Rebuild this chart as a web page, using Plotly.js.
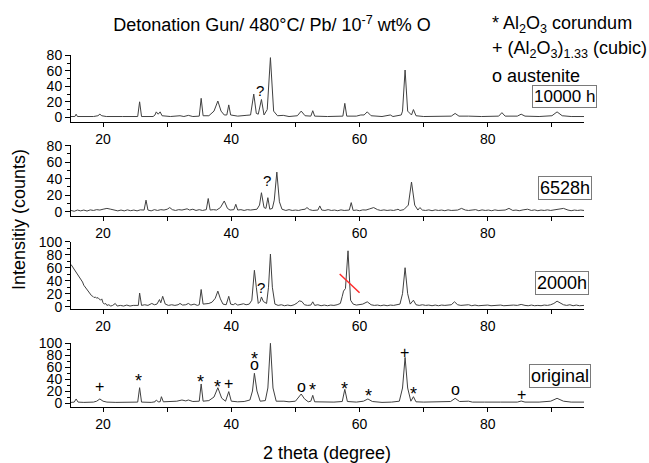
<!DOCTYPE html>
<html>
<head>
<meta charset="utf-8">
<script src="https://cdn.plot.ly/plotly-3.0.1.min.js"></script>
<style>html,body{margin:0;padding:0;background:#fff;}#chart{width:649px;height:463px;}</style>
</head>
<body>
<div id="chart"></div>
<script>
// ---------- DATA (2 theta in degrees, intensity in counts) ----------
const spec10000 = [[15,1],[15.6,1],[15.8,4],[16.0,1],[18.5,1],[19.2,2],[19.5,4],[19.8,2],[20.5,1],[22.0,1.5],[23.0,1],
 [25.4,1],[25.7,20],[26.0,1],[27.8,1],[28.1,3],[28.3,7],[28.6,4],[28.9,7],[29.2,2],[30.5,1],[32.0,2],[32.6,1],[33.3,2.5],[34.0,1],
 [35.0,1.5],[35.3,24.5],[35.6,2],[36.5,2],[37.3,8],[37.9,21],[38.4,8],[38.9,3],[39.3,3],[39.6,16],[39.9,3],[41.0,1.5],[42.3,2.5],
 [43.0,3],[43.5,30],[43.9,5],[44.2,4],[44.7,23],[45.1,3],[45.6,10],[46.1,77],[46.6,8],[47.2,2],[48.1,2.5],[49.0,1],[50.3,2],
 [50.9,8],[51.5,2],[52.4,1.5],[52.7,8.5],[53.0,1.5],[55.0,1],[57.4,1.5],[57.7,18],[58.0,1.5],[59.5,1.5],[60.2,3],[60.7,3],
 [61.2,7],[61.8,2],[63.5,1],[64.8,3],[65.2,1],[66.5,3],[66.7,8],[67.1,61],[67.5,8],[68.1,3],[68.4,10],[68.8,2],[70.0,1],[72.0,1],
 [74.3,1.5],[74.9,5],[75.5,1.5],[77.0,1.5],[79.0,1],[81.7,1.5],[82.2,6],[82.7,1.5],[84.6,1.5],[85.2,4],[85.8,1.5],[88.0,1],
 [90.0,2],[90.8,7],[91.6,2],[93.0,1],[95.0,1]];

const spec6528 = [[15,1.5],[15.5,0.5],[16,2],[16.5,1],[17,2],[17.5,0.8],[18,2.2],[18.5,1.5],[19,2.5],[19.5,2],[20,3],[20.6,4],
 [21.2,3],[21.8,2],[22.3,1],[22.8,2],[23.3,1],[23.8,2.2],[24.3,1.2],[24.8,2],[25.3,1],[25.8,2.2],[26.4,2],[26.7,14],[27.0,2],
 [27.5,1],[28.0,2.5],[28.5,1.5],[29.0,2.5],[29.5,2],[30.0,3],[30.4,5],[30.8,2.5],[31.3,1.5],[31.8,2.5],[32.3,2],[32.8,3],
 [33.1,3.5],[33.5,2],[34.0,3],[34.5,1.5],[35.0,2.5],[35.5,1.5],[36.1,2.5],[36.4,16],[36.7,2],[37.2,2.5],[37.7,2],[38.3,5],
 [38.9,13],[39.4,4],[39.8,2],[40.4,2.5],[40.7,9],[41.0,2],[41.5,2.5],[42.0,1.5],[42.5,2.5],[43.0,2],[43.5,2.5],[44.0,3],
 [44.4,8],[44.7,23],[45.1,5],[45.4,4],[45.7,17],[46.0,3],[46.4,4],[46.7,14],[47.1,48],[47.5,12],[47.9,3],[48.5,1.5],[49.0,2.5],
 [49.5,1.5],[50.0,2],[50.5,1.5],[51.0,2.5],[51.5,3],[51.8,5],[52.2,2.5],[52.7,1.5],[53.2,2],[53.5,2],[53.8,7],[54.1,2],
 [54.6,1.5],[55.1,2.5],[55.6,1.5],[56.1,2],[56.6,1.2],[57.1,2.2],[57.6,1.5],[58.1,2],[58.4,2],[58.7,11],[59.0,1.5],[59.5,2],
 [60.0,1.2],[60.5,2.2],[61.0,2],[61.6,3.5],[62.2,5],[62.8,2.5],[63.3,1.5],[63.8,2.2],[64.3,1.5],[64.8,2],[65.3,1.5],[65.8,2.5],
 [66.0,3],[66.3,1.5],[66.9,2.5],[67.6,8],[68.1,36],[68.6,8],[69.1,2],[69.4,5],[69.8,2],[70.3,1.5],[70.8,2.2],[71.3,1.2],
 [71.8,2.2],[72.3,1.5],[72.8,2],[73.3,1.2],[73.8,2.2],[74.3,1.5],[74.8,2.2],[75.3,2],[75.9,4],[76.5,2],[77.0,1.5],[77.5,2.2],
 [78.1,2.5],[78.6,1.2],[79.1,2.2],[79.6,1.5],[80.1,2],[80.6,1.2],[81.1,2.2],[81.6,1.5],[82.1,2],[82.7,2],[83.3,4],[83.9,1.5],
 [84.4,2],[84.9,1.2],[85.5,2.2],[86.2,3],[86.8,1.5],[87.3,2.2],[87.8,1.2],[88.3,2],[88.8,1.5],[89.3,2.2],[89.8,1.5],[90.4,2],
 [91.1,3],[91.8,4],[92.5,2],[93.0,1.2],[93.5,2],[94.0,1.5],[94.5,2],[95.0,1.5]];

const spec2000 = [[15.0,65],[15.2,62],[15.4,60],[15.6,57],[15.8,55],[16.0,50],[16.2,47],[16.4,44],[16.6,41],[16.8,38],[17.0,33],
 [17.2,30],[17.4,28],[17.6,26],[17.8,22],[18.0,20],[18.2,17],[18.4,16],[18.6,14],[18.8,15],[19.0,13],[19.2,14],[19.4,12],
 [19.6,10],[19.8,12],[20.0,6],[20.2,4],[20.4,5],[20.6,2],[20.9,3],[21.2,1],[21.5,2],[21.9,5],[22.2,1],[22.7,2],[23.2,1],
 [23.7,2.5],[24.2,1],[24.7,2],[25.2,1.5],[25.5,2],[25.7,21],[26.0,2],[26.5,3],[27.0,2],[27.6,5],[28.0,3],[28.4,4],[28.8,11],
 [29.0,6],[29.3,16],[29.7,4],[30.2,2],[30.7,3],[31.2,2],[31.7,3],[32.0,5],[32.4,2.5],[32.9,3],[33.3,5],[33.7,2.5],[34.2,4],
 [34.7,2],[35.0,3],[35.3,26.5],[35.6,4],[36.0,4],[36.5,5],[37.0,7],[37.5,13],[37.9,24],[38.3,12],[38.7,4],[39.2,3],[39.6,16],
 [39.9,4],[40.3,3],[40.6,5],[41.0,2.5],[41.5,4],[41.9,4.5],[42.3,3],[42.8,4],[43.2,10],[43.6,56],[43.9,30],[44.2,5],[44.5,8],
 [44.7,15],[45.0,8],[45.5,5],[45.8,30],[46.1,81],[46.4,30],[46.8,4],[47.3,2],[47.8,3],[48.3,1.5],[48.8,2.5],[49.3,1.5],[49.8,3],
 [50.3,6],[50.6,9],[51.0,8],[51.4,3],[51.9,2],[52.4,2.5],[52.7,7.5],[53.0,2],[53.5,3],[54.0,1.5],[54.5,2.5],[55.0,1.5],[55.5,2.5],
 [56.0,2],[56.5,3],[57.0,5],[57.3,16],[57.5,24],[57.8,28],[58.2,86],[58.6,10],[59.0,4],[59.5,2.5],[60.0,3],[60.5,4],[61.2,7.5],
 [61.8,3],[62.3,2],[62.8,2.5],[63.3,1.5],[63.8,2.5],[64.3,1.5],[64.8,2.5],[65.3,2],[65.8,2.5],[66.3,4],[66.7,20],[67.1,60],
 [67.5,20],[67.9,4],[68.4,10],[68.8,3],[69.3,2],[69.8,3],[70.3,2],[70.8,2.5],[71.3,1.5],[71.8,2.5],[72.3,1.5],[72.8,2.5],[73.3,2],
 [73.8,2.5],[74.3,3],[74.8,7.5],[75.3,3],[75.8,2],[76.3,2.5],[77.0,3],[77.5,1.5],[78.0,2.5],[78.5,1.5],[79.0,2],[79.5,1.5],
 [80.0,2.5],[80.5,1.5],[81.0,2],[81.5,1.5],[82.0,2.5],[82.5,1.5],[83.0,2],[83.5,1.5],[84.0,2.5],[84.6,2],[85.2,3.5],[85.8,2],
 [86.3,1.5],[86.8,2.5],[87.3,1.5],[87.8,2],[88.3,1.5],[88.8,2.5],[89.3,2],[89.8,3],[90.3,5],[90.8,8.5],[91.3,6],[91.8,3],[92.3,2],
 [92.8,3],[93.3,1.5],[93.8,2.5],[94.3,1.5],[95.0,2]];

const specOriginal = [[15,1],[15.5,1.5],[15.8,6.7],[16.1,1.5],[17.0,1],[18.5,1.5],[19.0,3],[19.5,6.7],[20.0,3],[20.6,1.5],[22.0,1],
 [24.0,1],[25.4,1.5],[25.7,25.5],[26.0,1.5],[27.5,1],[28.1,2],[28.3,5],[28.6,2],[28.9,2],[29.1,10.5],[29.4,2],[30.5,2],[31.5,3],
 [32.3,5],[32.9,3.5],[33.3,5],[34.0,2.5],[35.0,3],[35.3,31.7],[35.6,3],[36.5,4],[37.3,10],[37.9,25.5],[38.5,8],[39.1,3],[39.6,19],
 [40.0,3],[41.0,2],[42.0,2.5],[42.9,5],[43.3,20],[43.6,49.5],[44.0,20],[44.5,3],[45.3,4],[45.7,25],[46.1,99.5],[46.5,25],[47.0,3],
 [48.2,3],[49.0,2],[50.0,3],[50.5,9],[50.9,15],[51.4,7],[52.0,2],[52.4,3],[52.7,12.8],[53.0,2],[54.5,1.5],[56.0,1.5],[57.3,2.5],
 [57.7,22.8],[58.1,2.5],[59.5,1.5],[60.6,3],[61.3,6.7],[62.0,2.5],[63.5,1],[65.0,1.5],[66.2,3],[66.7,25],[67.1,76],[67.5,25],
 [68.0,3],[68.4,10.5],[68.8,2],[70.0,1.5],[72.0,1.5],[74.2,2.5],[74.9,7.8],[75.6,2.5],[77.0,3],[77.6,1.5],[79.5,1.5],[80.7,2],
 [82.0,1.5],[84.6,1.5],[85.2,3.3],[85.8,1.5],[88.0,1.5],[89.8,3],[90.8,7.8],[91.8,3],[93.0,1.5],[95.0,1.5]];

// phase markers on the "original" pattern
const markTheta = [19.4, 25.6, 35.2, 37.8, 39.5, 43.6, 43.6, 46.1, 50.9, 52.7, 57.7, 61.4, 67.0, 68.4, 75.0, 85.3];
const markSym   = ['+','*','*','*','+','*','o','+','o','*','*','*','+','*','o','+'];
const markInt   = [26.7, 45, 43, 35, 32, 82, 65, 113, 28, 30, 32, 20, 85, 23, 23, 15];

// "?" marks: [panel index, 2theta, intensity]
const qMarks = [[1, 44.5, 35], [2, 45.6, 38], [3, 44.7, 29]];
// red strike on 2000h panel: two [2theta, intensity] ends
const redStrike = [[56.9, 50.3], [60.0, 21.5]];

const panelLabels = ['10000 h', '6528h', '2000h', 'original'];
const xTickVals = [20, 40, 60, 80];

// ---------- LAYOUT HELPERS ----------
const W = 649, H = 463, ML = 71, MR = 65;
const PW = W - ML - MR;
const fx = px => (px - ML) / PW;
const fy = py => 1 - py / H;

// per panel: pixel of y=0, pixels per unit, pixel of x axis line, top value
const panels = [
  {zero: 117.3, ppu: 0.775, axis: 121.7, top: 80.3},
  {zero: 211.7, ppu: 0.825, axis: 216.0, top: 80.3},
  {zero: 306.7, ppu: 0.65,  axis: 309.0, top: 100.3},
  {zero: 403.0, ppu: 0.60,  axis: 406.7, top: 100.3}
];
const specs = [spec10000, spec6528, spec2000, specOriginal];

const FONT = 'Liberation Sans, Arial, sans-serif';
const lineColor = '#404040';

const traces = specs.map((s, i) => ({
  type: 'scatter', mode: 'lines',
  x: s.map(p => p[0]), y: s.map(p => p[1]),
  xaxis: i === 0 ? 'x' : 'x' + (i + 1),
  yaxis: i === 0 ? 'y' : 'y' + (i + 1),
  line: {color: lineColor, width: 1},
  showlegend: false, hoverinfo: 'skip'
}));

const layout = {
  width: W, height: H,
  margin: {l: ML, r: MR, t: 0, b: 0, pad: 0},
  paper_bgcolor: '#fff', plot_bgcolor: 'rgba(0,0,0,0)',
  font: {family: FONT, size: 14, color: '#000'},
  showlegend: false,
  title: {
    text: 'Detonation Gun/ 480°C/ Pb/ 10<sup>-7</sup> wt% O',
    font: {family: FONT, size: 18, color: '#000'},
    x: 272 / W, xref: 'container', xanchor: 'center',
    y: 1 - 25 / H, yref: 'container', yanchor: 'middle'
  },
  annotations: [], shapes: []
};

panels.forEach((p, i) => {
  const sfx = i === 0 ? '' : String(i + 1);
  const bottom = -(p.axis - p.zero) / p.ppu;
  const topPx = p.zero - p.top * p.ppu;
  layout['xaxis' + sfx] = {
    domain: [0, 1], range: [15, 95], anchor: 'y' + sfx,
    showline: true, linecolor: '#000', linewidth: 1,
    showgrid: false, zeroline: false,
    ticks: 'outside', ticklen: 4, tickwidth: 1, tickcolor: '#000',
    tickmode: 'array', tickvals: xTickVals, ticktext: xTickVals.map(String),
    minor: {tickmode: 'array', tickvals: [30, 50, 70, 90], ticks: 'outside', ticklen: 4, tickcolor: '#000', showgrid: false},
    tickfont: {family: FONT, size: 14, color: '#000'},
    fixedrange: true, automargin: false
  };
  layout['yaxis' + sfx] = {
    domain: [fy(p.axis), fy(topPx)], range: [bottom, p.top], anchor: 'x' + sfx,
    showline: true, linecolor: '#000', linewidth: 1,
    showgrid: false, zeroline: false,
    ticks: 'outside', ticklen: 5, tickwidth: 1, tickcolor: '#000',
    tick0: 0, dtick: 20,
    minor: {dtick: 10, ticks: 'outside', ticklen: 3, tickcolor: '#000', showgrid: false},
    tickfont: {family: FONT, size: 14, color: '#000'},
    fixedrange: true, automargin: false
  };
});

// phase markers
markTheta.forEach((t, k) => {
  const star = markSym[k] === '*';
  layout.annotations.push({
    xref: 'x4', yref: 'y4', x: t, y: markInt[k], text: markSym[k],
    showarrow: false, xanchor: 'center', yanchor: 'middle',
    yshift: star ? -5 : 0,
    font: {family: FONT, size: star ? 18 : 16, color: '#000'}
  });
});
// question marks
qMarks.forEach(q => {
  const sfx = q[0] === 1 ? '' : String(q[0]);
  layout.annotations.push({
    xref: 'x' + sfx, yref: 'y' + sfx, x: q[1], y: q[2], text: '?',
    showarrow: false, xanchor: 'center', yanchor: 'middle',
    font: {family: FONT, size: 15, color: '#000'}
  });
});
// red strike
layout.shapes.push({
  type: 'line', xref: 'x3', yref: 'y3',
  x0: redStrike[0][0], y0: redStrike[0][1], x1: redStrike[1][0], y1: redStrike[1][1],
  line: {color: '#ff2a2a', width: 1.5}
});

// panel label boxes
const boxPos = [[564, 96, 17], [565, 188, 18], [562, 283, 18], [560, 376, 18]];
panelLabels.forEach((t, i) => {
  layout.annotations.push({
    xref: 'paper', yref: 'paper', x: fx(boxPos[i][0]), y: fy(boxPos[i][1]),
    text: t, showarrow: false, xanchor: 'center', yanchor: 'middle',
    bordercolor: '#7a7a7a', borderwidth: 1, borderpad: 1, bgcolor: '#fff',
    font: {family: FONT, size: boxPos[i][2], color: '#000'}
  });
});

// phase key
const keyLines = [
  ['* Al<sub>2</sub>O<sub>3</sub> corundum', 25],
  ['+ (Al<sub>2</sub>O<sub>3</sub>)<sub>1.33</sub> (cubic)', 50],
  ['o austenite', 76]
];
keyLines.forEach(k => {
  layout.annotations.push({
    xref: 'paper', yref: 'paper', x: fx(490), y: fy(k[1]),
    text: k[0], showarrow: false, xanchor: 'left', yanchor: 'middle',
    font: {family: FONT, size: 18, color: '#000'}
  });
});

// axis titles
layout.annotations.push({
  xref: 'paper', yref: 'paper', x: fx(327), y: fy(453),
  text: '2 theta (degree)', showarrow: false, xanchor: 'center', yanchor: 'middle',
  font: {family: FONT, size: 18, color: '#000'}
});
layout.annotations.push({
  xref: 'paper', yref: 'paper', x: fx(19), y: fy(220),
  text: 'Intensitiy (counts)', showarrow: false, textangle: -90,
  xanchor: 'center', yanchor: 'middle',
  font: {family: FONT, size: 18, color: '#000'}
});

Plotly.newPlot('chart', traces, layout, {staticPlot: true, displayModeBar: false});
</script>
</body>
</html>
